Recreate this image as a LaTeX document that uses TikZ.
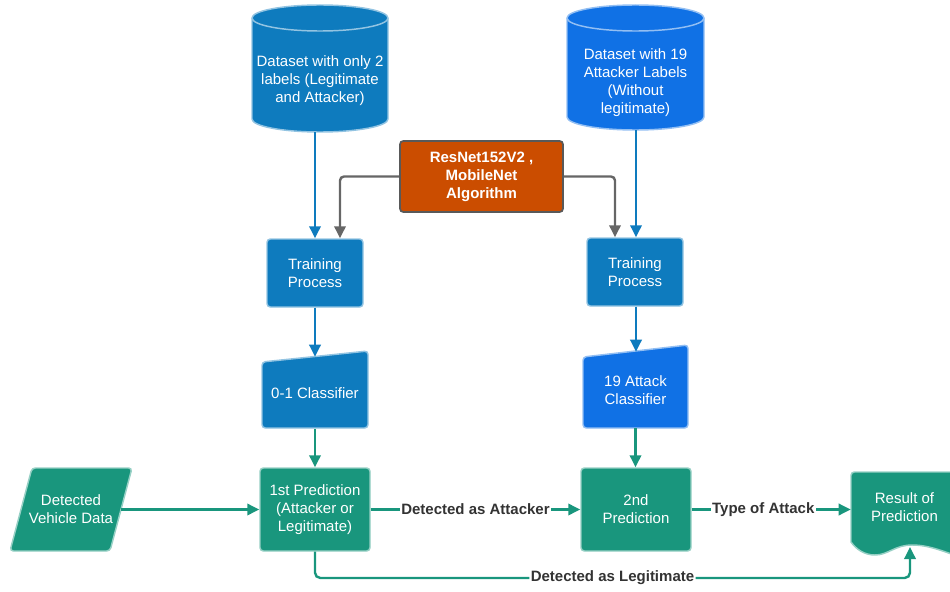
\documentclass[tikz,border=0pt]{standalone}
\usepackage{fontspec}
\setmainfont{Liberation Sans}
\usetikzlibrary{arrows.meta,calc}
\definecolor{bluea}{HTML}{0E7BBE}
\definecolor{blueb}{HTML}{1071E5}
\definecolor{greenc}{HTML}{19967D}
\definecolor{orangec}{HTML}{CB4D00}
\definecolor{grayarr}{HTML}{666666}
\definecolor{lblgray}{HTML}{333333}
\begin{document}
\begin{tikzpicture}[x=0.75pt,y=-0.75pt,
  font=\fontsize{11.25}{13.5}\selectfont,
  txt/.style={text=white, align=center, inner sep=0pt},
  bshape/.style={fill=bluea, draw=bluea!45!white, line width=1.1pt, rounded corners=2.5pt},
  cshape/.style={fill=blueb, draw=blueb!45!white, line width=1.1pt, rounded corners=2.5pt},
  gshape/.style={fill=greenc, draw=greenc!45!white, line width=1.1pt, rounded corners=2.5pt},
  cylA/.style={fill=bluea, draw=bluea!45!white, line width=1.1pt},
  cylB/.style={fill=blueb, draw=blueb!45!white, line width=1.1pt},
  trainbox/.style={bshape, txt, minimum width=72pt, minimum height=51pt},
  predbox/.style={gshape, txt, minimum width=82.5pt, minimum height=62.25pt},
  tip/.style={-{Triangle[length=9pt,width=8.5pt]}},
  barr/.style={draw=bluea, line width=1.8pt, tip},
  garr/.style={draw=greenc, line width=1.8pt, tip},
  gyarr/.style={draw=grayarr, line width=1.8pt, tip, rounded corners=3pt},
  lbl/.style={fill=white, text=lblgray, font=\fontsize{11.25}{13.5}\selectfont\bfseries, inner sep=1pt}
]
\useasboundingbox (0,0) rectangle (950,592);

% ---------- cylinders ----------
\path[cylA] (252,18) -- (252,119) arc[start angle=180,end angle=360,x radius=51pt,y radius=9.75pt]
  -- (388,18) arc[start angle=0,end angle=180,x radius=51pt,y radius=9.75pt] -- cycle;
\draw[draw=bluea!45!white, line width=1.1pt] (252,18) arc[start angle=180,end angle=360,x radius=51pt,y radius=9.75pt];
\node[txt, minimum width=102pt, minimum height=95.25pt] (d1) at (320,68.5) {};
\node[txt] (d1t) at (320,81) {Dataset with only 2\\labels (Legitimate\\and Attacker)};

\path[cylB] (567,18) -- (567,117) arc[start angle=180,end angle=360,x radius=51.375pt,y radius=9.75pt]
  -- (704,18) arc[start angle=0,end angle=180,x radius=51.375pt,y radius=9.75pt] -- cycle;
\draw[draw=blueb!45!white, line width=1.1pt] (567,18) arc[start angle=180,end angle=360,x radius=51.375pt,y radius=9.75pt];
\node[txt, minimum width=102.75pt, minimum height=93.75pt] (d2) at (635.5,67.5) {};
\node[txt] (d2t) at (635.5,83) {Dataset with 19\\Attacker Labels\\(Without\\legitimate)};

% ---------- algorithm box ----------
\node[fill=orangec, draw=black!65, line width=1.3pt, rounded corners=2.5pt, text=white,
  align=center, inner sep=0pt, minimum width=122.25pt, minimum height=53.25pt,
  font=\fontsize{11.25}{13.5}\selectfont\bfseries] (alg) at (481.5,176.5)
  {ResNet152V2 ,\\MobileNet\\Algorithm};

% ---------- training ----------
\node[trainbox] (train1) at (315,273) {Training\\Process};
\node[trainbox] (train2) at (635,272) {Training\\Process};

% ---------- classifiers ----------
\path[bshape] (262,362) -- (368,351) -- (368,428) -- (262,428) -- cycle;
\node[txt, minimum width=79.5pt, minimum height=54pt] (cls1) at (315,393) {0-1 Classifier};
\path[cshape] (583,357) -- (688,345) -- (688,428) -- (583,428) -- cycle;
\node[txt, minimum width=78.75pt, minimum height=57pt] (cls2) at (635.5,390) {19 Attack\\Classifier};

% ---------- bottom row ----------
\path[gshape] (32,468) -- (132,468) -- (110,551) -- (10,551) -- cycle;
\node[txt, minimum width=75pt, minimum height=62.25pt] (dvd) at (71,509.5) {Detected\\Vehicle Data};

\node[predbox] (pred1) at (315,509.5) {1st Prediction\\(Attacker or\\Legitimate)};
\node[predbox] (pred2) at (636,509.5) {2nd\\Prediction};

\path[fill=greenc, draw=greenc!45!white, line width=1.1pt]
  (851,542) [rounded corners=2.5pt] -- (851,472) -- (968,472) [sharp corners] -- (968,560)
  .. controls (945,552) and (930,545) .. (912,545)
  .. controls (895,545) and (888,555) .. (875,555)
  .. controls (864,555) and (856,549) .. (851,542) -- cycle;
\node[txt, minimum width=80.25pt, minimum height=52.5pt] (res) at (904.5,507) {Result of\\Prediction};
\coordinate (resb) at (910,547);
\coordinate (lowr) at (910,578);

% ---------- connectors ----------
\draw[barr] (d1.south -| train1.north) -- (train1.north);
\draw[barr] ($(d2.south -| train2.north)+(1,0)$) -- ($(train2.north)+(1,0)$);
\draw[gyarr] (alg.west) -| ($(train1.north)+(25,0)$);
\draw[gyarr] (alg.east) -| ($(train2.north)+(-20,0)$);
\draw[barr] (train1.south) -- (cls1.north);
\draw[barr] ($(train2.south)+(1,0)$) -- ($(cls2.north)+(0.5,0)$);
\draw[garr] (cls1.south) -- (pred1.north);
\draw[garr] (cls2.south) -- (cls2.south |- pred2.north);
\draw[garr] (dvd.east) -- (pred1.west);
\draw[garr] (pred1.east) -- node[lbl]{Detected as Attacker} (pred2.west);
\draw[garr] (pred2.east) -- node[lbl, pos=0.45]{Type of Attack} (pred2.east -| res.west);
\draw[garr, rounded corners=4pt] (pred1.south) |- node[lbl, pos=0.75]{Detected as Legitimate} (lowr) -- (resb);
\end{tikzpicture}
\end{document}
